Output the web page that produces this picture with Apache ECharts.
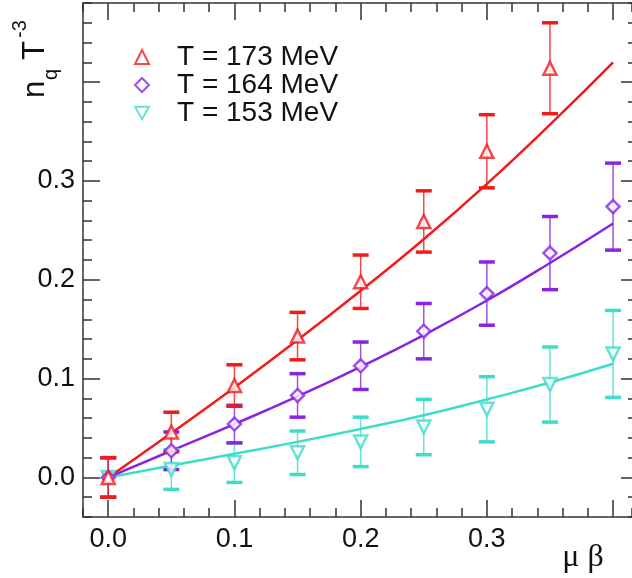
<!DOCTYPE html>
<html>
<head>
<meta charset="UTF-8">
<title>n_q T^-3 vs mu beta</title>
<style>
    html, body { margin: 0; padding: 0; background: #fff; }
    #chart { width: 632px; height: 578px; }
</style>
<script src="https://cdn.jsdelivr.net/npm/echarts@6/dist/echarts.min.js"></script>
</head>
<body>
<div id="chart"></div>
<script>
    // data points (mu*beta)
    const muB = [0, 0.05, 0.1, 0.15, 0.2, 0.25, 0.3, 0.35, 0.4];

    const val173 = [0.000, 0.046, 0.093, 0.143, 0.198, 0.259, 0.330, 0.414];
    const err173 = [0.020, 0.020, 0.021, 0.024, 0.027, 0.031, 0.037, 0.046];
    const val164 = [0.000, 0.027, 0.054, 0.083, 0.113, 0.148, 0.186, 0.227, 0.274];
    const err164 = [0.020, 0.019, 0.019, 0.022, 0.024, 0.028, 0.032, 0.037, 0.044];
    const val153 = [0.000, 0.008, 0.015, 0.025, 0.036, 0.051, 0.069, 0.094, 0.125];
    const err153 = [0.020, 0.020, 0.020, 0.022, 0.025, 0.028, 0.033, 0.038, 0.044];

    // fit curves
    const fitX = [0, 0.05, 0.1, 0.15, 0.2, 0.25, 0.3, 0.35, 0.4];
    const fit173 = [0, 0.045, 0.091, 0.139, 0.189, 0.241, 0.297, 0.357, 0.420];
    const fit164 = [0, 0.027, 0.054, 0.082, 0.112, 0.144, 0.179, 0.217, 0.257];
    const fit153 = [0, 0.012, 0.024, 0.036, 0.049, 0.063, 0.079, 0.096, 0.115];

    const xMajor = [0, 0.1, 0.2, 0.3, 0.4];
    const xLabels = [0, 0.1, 0.2, 0.3];
    const yMajor = [0, 0.1, 0.2, 0.3, 0.4];
    const yLabels = [0, 0.1, 0.2, 0.3];

    const RED = '#f21a1a';
    const PURPLE = '#8a24e0';
    const CYAN = '#3fdccc';
    const AXIS = '#333';
    const FONT = 'Liberation Sans, Arial, sans-serif';
    const DOWN_TRI = 'path://M0,0 L10,0 L5,9 Z';

    const pairs = (xs, ys) => ys.map((y, i) => [xs[i], y]);
    const triples = (xs, ys, es) => ys.map((y, i) => [xs[i], y, es[i]]);

    function errorBars(color) {
        return function (params, api) {
            const x = api.value(0), y = api.value(1), e = api.value(2);
            const hi = api.coord([x, y + e]);
            const lo = api.coord([x, y - e]);
            const hw = 8;
            return {
                type: 'group',
                children: [
                    { type: 'line', shape: { x1: hi[0], y1: hi[1], x2: lo[0], y2: lo[1] },
                      style: { stroke: color, lineWidth: 1.5, opacity: 0.8 } },
                    { type: 'line', shape: { x1: hi[0] - hw, y1: hi[1], x2: hi[0] + hw, y2: hi[1] },
                      style: { stroke: color, lineWidth: 3.5 } },
                    { type: 'line', shape: { x1: lo[0] - hw, y1: lo[1], x2: lo[0] + hw, y2: lo[1] },
                      style: { stroke: color, lineWidth: 3.5 } }
                ]
            };
        };
    }

    // the frame's right edge lies just past the picture, so right ticks are shorter here
    function tickLen(pos, major) {
        if (pos === 'right') return major ? 11 : 4;
        return major ? 17 : 9;
    }

    function xAxisDef(pos, major) {
        return {
            type: 'value', min: -0.02, max: 0.415, position: pos,
            interval: major ? undefined : 0.02,
            axisLine: { show: major, onZero: false, lineStyle: { color: AXIS, width: 1.5 } },
            axisTick: major
                ? { inside: true, length: tickLen(pos, true), customValues: xMajor, lineStyle: { color: AXIS, width: 1.5 } }
                : { inside: true, length: tickLen(pos, false), lineStyle: { color: AXIS, width: 1.5 } },
            axisLabel: (major && pos === 'bottom')
                ? { customValues: xLabels, formatter: v => v.toFixed(1), fontSize: 27, color: '#111', fontFamily: FONT, margin: 9 }
                : { show: false },
            splitLine: { show: false }
        };
    }

    function yAxisDef(pos, major) {
        return {
            type: 'value', min: -0.04, max: 0.48, position: pos,
            interval: major ? undefined : 0.02,
            axisLine: { show: major && pos === 'left', onZero: false, lineStyle: { color: AXIS, width: 1.5 } },
            axisTick: major
                ? { inside: true, length: tickLen(pos, true), customValues: yMajor, lineStyle: { color: AXIS, width: 1.5 } }
                : { inside: true, length: tickLen(pos, false), lineStyle: { color: AXIS, width: 1.5 } },
            axisLabel: (major && pos === 'left')
                ? { customValues: yLabels, formatter: v => v.toFixed(1), fontSize: 27, color: '#111', fontFamily: FONT, margin: 8 }
                : { show: false },
            splitLine: { show: false }
        };
    }

    const chart = echarts.init(document.getElementById('chart'), null, { renderer: 'canvas' });

    chart.setOption({
        animation: false,
        backgroundColor: '#fff',
        grid: { left: 83, right: 0, top: 3, bottom: 61 },
        xAxis: [xAxisDef('bottom', true), xAxisDef('bottom', false), xAxisDef('top', true), xAxisDef('top', false)],
        yAxis: [yAxisDef('left', true), yAxisDef('left', false), yAxisDef('right', true), yAxisDef('right', false)],
        legend: {
            orient: 'vertical',
            left: 129, top: 38,
            itemWidth: 14, itemHeight: 14, itemGap: 0,
            data: ['T = 173 MeV', 'T = 164 MeV', 'T = 153 MeV'],
            textStyle: { fontSize: 28, fontFamily: FONT, color: '#111', lineHeight: 28, padding: [0, 0, 0, 23] }
        },
        graphic: [
            {
                type: 'group', x: 45, y: 98, rotation: Math.PI / 2,
                children: [
                    { type: 'text', x: 0, y: -10, style: { text: 'n', font: '31px ' + FONT, fill: '#111', verticalAlign: 'middle' } },
                    { type: 'text', x: 18, y: 6, style: { text: 'q', font: '20px ' + FONT, fill: '#111', verticalAlign: 'middle' } },
                    { type: 'text', x: 38, y: -10, style: { text: 'T', font: '31px ' + FONT, fill: '#111', verticalAlign: 'middle' } },
                    { type: 'text', x: 60, y: -25, style: { text: '-3', font: '20px ' + FONT, fill: '#111', verticalAlign: 'middle' } }
                ]
            },
            {
                type: 'text', x: 583, y: 558,
                style: { text: 'μ β', font: '32px Liberation Serif, serif', fill: '#111', align: 'center', verticalAlign: 'middle' }
            }
        ],
        series: [
            { type: 'line', data: pairs(fitX, fit153), showSymbol: false, smooth: true, lineStyle: { color: CYAN, width: 2.5 }, z: 2 },
            { type: 'line', data: pairs(fitX, fit164), showSymbol: false, smooth: true, lineStyle: { color: PURPLE, width: 2.5 }, z: 2 },
            { type: 'line', data: pairs(fitX, fit173), showSymbol: false, smooth: true, lineStyle: { color: RED, width: 2.5 }, z: 2 },

            { type: 'custom', renderItem: errorBars(CYAN), data: triples(muB, val153, err153), z: 3 },
            { type: 'custom', renderItem: errorBars(PURPLE), data: triples(muB, val164, err164), z: 3 },
            { type: 'custom', renderItem: errorBars(RED), data: triples(muB, val173, err173), z: 3 },

            { name: 'T = 153 MeV', type: 'scatter', data: pairs(muB, val153), symbol: DOWN_TRI, symbolSize: 13,
              itemStyle: { color: '#fff', borderColor: CYAN, borderWidth: 2.5 }, z: 4 },
            { name: 'T = 164 MeV', type: 'scatter', data: pairs(muB, val164), symbol: 'diamond', symbolSize: 13,
              itemStyle: { color: '#fff', borderColor: PURPLE, borderWidth: 2.5 }, z: 4 },
            { name: 'T = 173 MeV', type: 'scatter', data: pairs(muB, val173), symbol: 'triangle', symbolSize: 13,
              itemStyle: { color: '#fff', borderColor: RED, borderWidth: 2.5 }, z: 4 }
        ]
    });
</script>
</body>
</html>
